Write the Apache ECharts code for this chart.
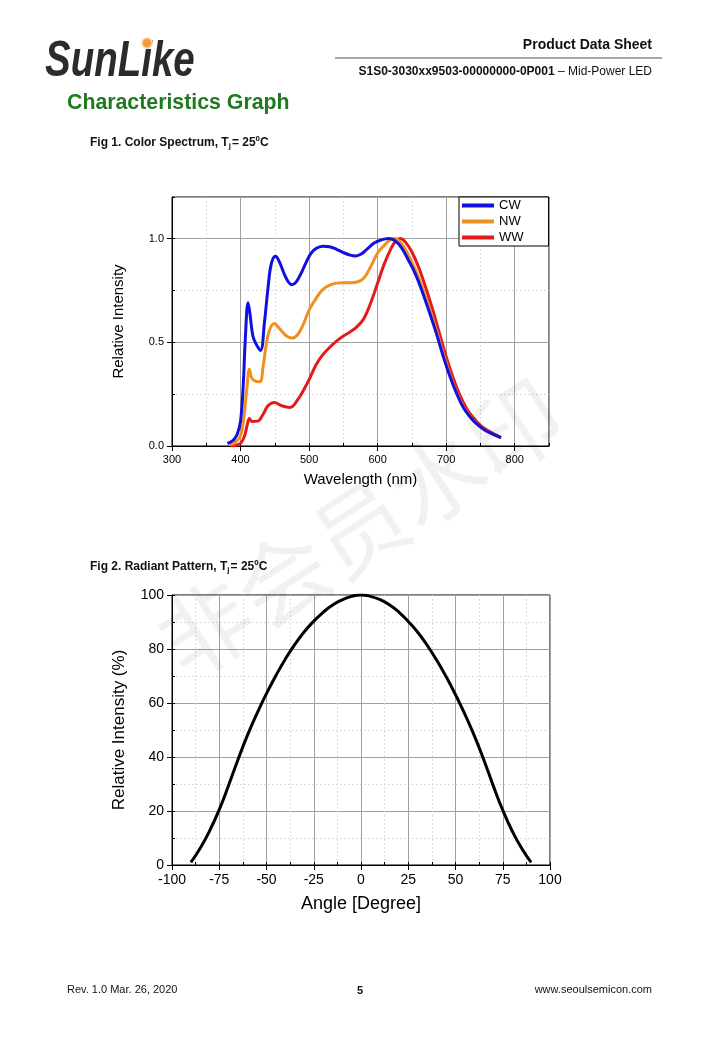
<!DOCTYPE html>
<html><head><meta charset="utf-8">
<script src="https://cdn.jsdelivr.net/npm/echarts@6/dist/echarts.min.js"></script>
<style>html,body{margin:0;padding:0;background:#fff}#c{width:720px;height:1040px}</style>
</head><body><div id="c"></div>
<script>
// ---- Fig 1: Color Spectrum ----
const cwWavelength = [381,386,390,395,400,404,407,411,414,418,423,429,435,440,445,451,457,463,469,475,481,488,495,502,510,520,530,540,550,560,568,576,585,595,605,616,625,635,645,655,665,675,685,695,705,715,725,735,745,755,765,780];
const cwIntensity  = [0.012,0.02,0.03,0.055,0.12,0.3,0.52,0.69,0.63,0.53,0.49,0.46,0.6,0.76,0.88,0.915,0.885,0.835,0.795,0.777,0.79,0.83,0.88,0.925,0.952,0.963,0.96,0.948,0.932,0.92,0.916,0.925,0.95,0.978,0.993,1.0,0.99,0.955,0.895,0.83,0.745,0.65,0.55,0.44,0.34,0.255,0.185,0.14,0.105,0.08,0.062,0.04];
const nwWavelength = [385,393,400,405,409,413,416,420,428,433,438,443,449,457,467,475,484,492,500,507,515,522,530,540,550,560,570,580,590,600,610,618,625,635,645,655,665,675,685,695,705,715,725,735,745,755,765,780];
const nwIntensity  = [0.005,0.02,0.05,0.14,0.27,0.37,0.33,0.315,0.31,0.385,0.5,0.565,0.59,0.565,0.53,0.52,0.54,0.59,0.655,0.695,0.735,0.76,0.775,0.785,0.787,0.787,0.79,0.81,0.865,0.93,0.968,0.993,1.0,0.975,0.92,0.85,0.765,0.67,0.565,0.455,0.35,0.26,0.19,0.142,0.106,0.08,0.062,0.04];
const wwWavelength = [385,395,401,406,410,413,417,425,433,440,449,460,472,484,492,500,510,520,530,540,550,560,570,580,590,600,610,620,627,633,640,650,660,670,680,690,700,710,720,730,740,750,760,770,780];
const wwIntensity  = [0,0.005,0.016,0.05,0.105,0.132,0.118,0.12,0.153,0.194,0.21,0.194,0.186,0.226,0.27,0.32,0.39,0.44,0.475,0.505,0.53,0.55,0.575,0.615,0.69,0.785,0.88,0.955,0.99,1.0,0.985,0.935,0.86,0.765,0.66,0.545,0.43,0.33,0.245,0.18,0.135,0.1,0.076,0.058,0.04];
const spectrumNames = ['CW','NW','WW'];
const spectrumColors = ['#1010e0','#f0901e','#e41a1a'];

// ---- Fig 2: Radiant Pattern ----
const patternAngle = [-90,-85,-80,-75,-70,-65,-60,-55,-50,-45,-40,-35,-30,-25,-20,-15,-10,-5,0,5,10,15,20,25,30,35,40,45,50,55,60,65,70,75,80,85,90];
const patternIntensity = [1,6.3,12.8,20.5,29.6,39.2,48.2,56.2,63.5,70.2,76.3,81.7,86.4,90.3,93.6,96.3,98.2,99.5,100,99.5,98.3,96.4,93.7,90.2,86.2,81.4,75.9,69.8,63.1,55.8,47.8,38.9,29.3,20.3,12.6,6.2,1];

const FF = 'Liberation Sans, Arial, Helvetica, sans-serif';
const zip = (a, b) => a.map((v, i) => [v, b[i]]);

const major = '#a0a0a0', minor = '#d2d2d2';
function minorAxis(grid, min, max, interval, pos) {
  return {
    type: 'value', gridIndex: grid, min, max, interval, position: pos,
    axisLine: { show: false, onZero: false },
    axisTick: { show: true, inside: true, length: 3, lineStyle: { color: '#000' } },
    axisLabel: { show: false },
    splitLine: { show: true, lineStyle: { color: minor, type: [1.5, 2.5], width: 1 } }
  };
}
function mainAxis(grid, min, max, interval, pos, fs, margin, name, nameFs, gap, fmt, showMax) {
  return {
    type: 'value', gridIndex: grid, min, max, interval, position: pos,
    axisLine: { show: true, onZero: false, lineStyle: { color: '#000', width: 1 } },
    axisTick: { show: true, inside: false, length: 5, lineStyle: { color: '#000' } },
    axisLabel: { fontFamily: FF, fontSize: fs, color: '#000', margin, showMaxLabel: showMax, showMinLabel: true, formatter: fmt },
    splitLine: { show: true, lineStyle: { color: major, width: 1 } },
    name, nameLocation: 'middle', nameGap: gap,
    nameTextStyle: { fontFamily: FF, fontSize: nameFs, color: '#000' }
  };
}

const chart = echarts.init(document.getElementById('c'), null, { renderer: 'canvas' });

const graphic = [
  { type: 'text', x: 45, y: 62, scaleX: 0.77, style: { text: 'SunLike', font: 'italic bold 50px ' + FF, fill: '#2b2b2b', textVerticalAlign: 'middle' } },
  { type: 'circle', shape: { cx: 147, cy: 43, r: 5 }, style: { fill: '#f39a3a', stroke: '#fbd3a0', lineWidth: 1.5 } },
  { type: 'text', x: 67, y: 103, style: { text: 'Characteristics Graph', font: 'bold 21.3px ' + FF, fill: '#1f7a1f', textVerticalAlign: 'middle' } },
  { type: 'text', x: 652, y: 45, style: { text: 'Product Data Sheet', font: 'bold 14px ' + FF, fill: '#111', textAlign: 'right', textVerticalAlign: 'middle' } },
  { type: 'line', shape: { x1: 335, y1: 58, x2: 662, y2: 58 }, style: { stroke: '#a8a8a8', lineWidth: 2 } },
  { type: 'text', x: 652, y: 72, style: { text: '{b|S1S0-3030xx9503-00000000-0P001}{r| – Mid-Power LED}', align: 'right', verticalAlign: 'middle',
      rich: { b: { fontFamily: FF, fontWeight: 'bold', fontSize: 12, fill: '#111' }, r: { fontFamily: FF, fontSize: 12, fill: '#111' } } } },
  { type: 'text', x: 90, y: 143, style: { text: '{b|Fig 1. Color Spectrum, T}{s|j}{b|= 25ºC}', verticalAlign: 'middle',
      rich: { b: { fontFamily: FF, fontWeight: 'bold', fontSize: 12, fill: '#111' }, s: { fontFamily: FF, fontWeight: 'bold', fontSize: 8, fill: '#111', verticalAlign: 'bottom', padding: [6, 1, 0, 0] } } } },
  { type: 'text', x: 90, y: 567, style: { text: '{b|Fig 2. Radiant Pattern, T}{s|j}{b|= 25ºC}', verticalAlign: 'middle',
      rich: { b: { fontFamily: FF, fontWeight: 'bold', fontSize: 12, fill: '#111' }, s: { fontFamily: FF, fontWeight: 'bold', fontSize: 8, fill: '#111', verticalAlign: 'bottom', padding: [6, 1, 0, 0] } } } },
  { type: 'text', x: 67, y: 990, style: { text: 'Rev. 1.0 Mar. 26, 2020', font: '11px ' + FF, fill: '#111', textVerticalAlign: 'middle' } },
  { type: 'text', x: 360, y: 991, style: { text: '5', font: 'bold 11px ' + FF, fill: '#111', textAlign: 'center', textVerticalAlign: 'middle' } },
  { type: 'text', x: 652, y: 990, style: { text: 'www.seoulsemicon.com', font: '11px ' + FF, fill: '#111', textAlign: 'right', textVerticalAlign: 'middle' } },
  { type: 'text', x: 360, y: 528, rotation: 33 * Math.PI / 180, silent: true, z: 100,
    style: { text: '非会员水印', font: '92px "Noto Sans CJK SC", sans-serif', fill: 'rgba(0,0,0,0.055)', textAlign: 'center', textVerticalAlign: 'middle' } }
];

chart.setOption({
  animation: false,
  backgroundColor: '#fff',
  graphic,
  grid: [
    { left: 172, top: 197, width: 377, height: 249, show: true, borderColor: '#000', borderWidth: 1, backgroundColor: 'transparent' },
    { left: 172, top: 595, width: 378, height: 270, show: true, borderColor: '#000', borderWidth: 1, backgroundColor: 'transparent' }
  ],
  legend: {
    data: spectrumNames, orient: 'vertical', left: 459, top: 197,
    backgroundColor: '#fff', borderColor: '#000', borderWidth: 1, borderRadius: 0,
    padding: [2, 25, 2, 3], itemGap: 3, itemWidth: 32, itemHeight: 4, itemTextGap: 4, icon: 'rect',
    textStyle: { fontFamily: FF, fontSize: 13, color: '#000' }
  },
  xAxis: [
    minorAxis(0, 300, 850, 50, 'bottom'),
    mainAxis(0, 300, 850, 100, 'bottom', 11, 8, 'Wavelength (nm)', 15, 26, v => String(v), false),
    minorAxis(1, -100, 100, 12.5, 'bottom'),
    mainAxis(1, -100, 100, 25, 'bottom', 14, 8, 'Angle [Degree]', 18, 30, v => String(v), true)
  ],
  yAxis: [
    minorAxis(0, 0, 1.2, 0.25, 'left'),
    mainAxis(0, 0, 1.2, 0.5, 'left', 11, 8, 'Relative Intensity', 15, 46, v => v.toFixed(1), false),
    minorAxis(1, 0, 100, 10, 'left'),
    mainAxis(1, 0, 100, 20, 'left', 14, 8, 'Relative Intensity (%)', 17, 44, v => String(v), true)
  ],
  series: [
    { name: 'CW', type: 'line', xAxisIndex: 1, yAxisIndex: 1, data: zip(cwWavelength, cwIntensity), smooth: 0.4, symbol: 'none', lineStyle: { width: 3, color: spectrumColors[0] }, itemStyle: { color: spectrumColors[0] }, z: 4 },
    { name: 'NW', type: 'line', xAxisIndex: 1, yAxisIndex: 1, data: zip(nwWavelength, nwIntensity), smooth: 0.4, symbol: 'none', lineStyle: { width: 3, color: spectrumColors[1] }, itemStyle: { color: spectrumColors[1] }, z: 3 },
    { name: 'WW', type: 'line', xAxisIndex: 1, yAxisIndex: 1, data: zip(wwWavelength, wwIntensity), smooth: 0.4, symbol: 'none', lineStyle: { width: 3, color: spectrumColors[2] }, itemStyle: { color: spectrumColors[2] }, z: 2 },
    { name: 'Radiant', type: 'line', xAxisIndex: 3, yAxisIndex: 3, data: zip(patternAngle, patternIntensity), smooth: 0.5, symbol: 'none', lineStyle: { width: 3, color: '#000' }, z: 2 }
  ]
});
</script>
</body></html>
